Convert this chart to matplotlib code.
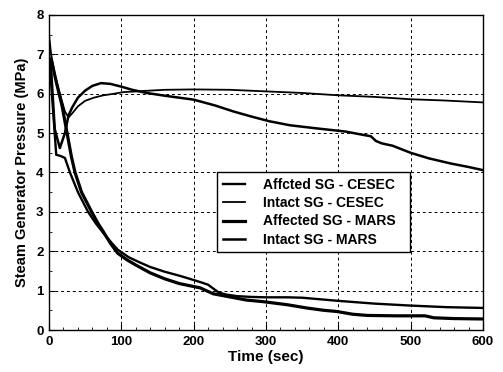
import numpy as np
import matplotlib
matplotlib.use("Agg")
import matplotlib.pyplot as plt
from matplotlib.ticker import MultipleLocator

# -----------------------------
# Data
# -----------------------------
t_aff_cesec = [0, 4, 10, 16, 22, 29, 40, 54, 65, 80, 95, 110, 125, 140, 160, 180,
               200, 212, 220, 228, 235, 245, 260, 280, 300, 330, 350, 375, 400,
               450, 500, 550, 600]
p_aff_cesec = [7.0, 6.0, 4.45, 4.42, 4.37, 4.0, 3.5, 3.0, 2.7, 2.35, 2.04, 1.85,
               1.72, 1.6, 1.48, 1.38, 1.27, 1.2, 1.15, 1.04, 0.95, 0.9, 0.86, 0.84,
               0.83, 0.83, 0.82, 0.78, 0.74, 0.67, 0.62, 0.58, 0.56]

t_int_cesec = [0, 3, 8, 15, 22, 27, 32, 40, 50, 62, 75, 90, 102, 130, 160, 200,
               250, 300, 350, 400, 450, 500, 545, 600]
p_int_cesec = [7.5, 7.0, 6.5, 6.0, 5.55, 5.4, 5.5, 5.68, 5.82, 5.9, 5.96, 6.0,
               6.04, 6.07, 6.1, 6.11, 6.1, 6.06, 6.02, 5.96, 5.92, 5.86, 5.83, 5.78]

t_aff_mars = [0, 4, 10, 18, 25, 31, 36, 45, 59, 68, 75, 85, 95, 108, 120, 140,
              160, 180, 209, 227, 250, 273, 296, 330, 356, 380, 398, 420, 440,
              480, 520, 532, 560, 600]
p_aff_mars = [6.9, 6.8, 6.3, 5.7, 5.0, 4.4, 4.0, 3.5, 3.0, 2.7, 2.5, 2.2, 1.95,
              1.78, 1.65, 1.45, 1.3, 1.18, 1.07, 0.92, 0.84, 0.76, 0.72, 0.64,
              0.56, 0.5, 0.47, 0.4, 0.37, 0.36, 0.36, 0.31, 0.29, 0.28]

t_int_mars = [0, 3, 8, 15, 22, 27, 32, 40, 50, 60, 72, 85, 100, 115, 135, 160,
              200, 230, 255, 280, 305, 333, 370, 410, 430, 445, 452, 460, 475,
              500, 525, 555, 580, 600]
p_int_mars = [6.9, 6.6, 5.1, 4.62, 5.0, 5.45, 5.65, 5.9, 6.08, 6.2, 6.27, 6.25,
              6.18, 6.1, 6.02, 5.95, 5.85, 5.7, 5.55, 5.42, 5.3, 5.2, 5.12, 5.04,
              4.97, 4.92, 4.8, 4.74, 4.68, 4.5, 4.36, 4.23, 4.14, 4.06]

labels = ["Affcted SG - CESEC", "Intact SG - CESEC",
          "Affected SG - MARS", "Intact SG - MARS"]

# -----------------------------
# Plotting
# -----------------------------
plt.rcParams['font.family'] = ['Liberation Sans', 'DejaVu Sans']
plt.rcParams['font.weight'] = 'bold'

fig = plt.figure(figsize=(5.03, 3.72), dpi=100)
ax = fig.add_axes([0.0974, 0.1129, 0.8628, 0.8468])

ax.plot(t_aff_cesec, p_aff_cesec, color='black', lw=1.7, label=labels[0])
ax.plot(t_int_cesec, p_int_cesec, color='black', lw=1.3, label=labels[1])
ax.plot(t_aff_mars, p_aff_mars, color='black', lw=2.3, label=labels[2])
ax.plot(t_int_mars, p_int_mars, color='black', lw=1.8, label=labels[3])

ax.set_xlim(0, 600)
ax.set_ylim(0, 8)
ax.xaxis.set_major_locator(MultipleLocator(100))
ax.xaxis.set_minor_locator(MultipleLocator(20))
ax.yaxis.set_major_locator(MultipleLocator(1))
ax.yaxis.set_minor_locator(MultipleLocator(0.5))
ax.tick_params(which='both', direction='in', labelsize=9.5, pad=4)
ax.tick_params(which='major', length=4)
ax.tick_params(which='minor', length=2)

ax.grid(True, which='major', color='black', linestyle=(0, (3, 3)), linewidth=0.7)

for s in ax.spines.values():
    s.set_linewidth(1.0)

ax.set_xlabel("Time (sec)", fontsize=11, fontweight='bold', labelpad=2)
ax.set_ylabel("Steam Generator Pressure (MPa)", fontsize=10.5, fontweight='bold', labelpad=5)

leg = ax.legend(loc='upper left', bbox_to_anchor=(0.387, 0.25, 0.445, 0.25),
                mode='expand', borderaxespad=0, fontsize=10, handlelength=1.6,
                handletextpad=1.3, labelspacing=0.3, borderpad=0.4,
                fancybox=False, framealpha=1)
leg.get_frame().set_edgecolor('black')
leg.get_frame().set_linewidth(1.0)

fig.savefig("out.png", dpi=100)
